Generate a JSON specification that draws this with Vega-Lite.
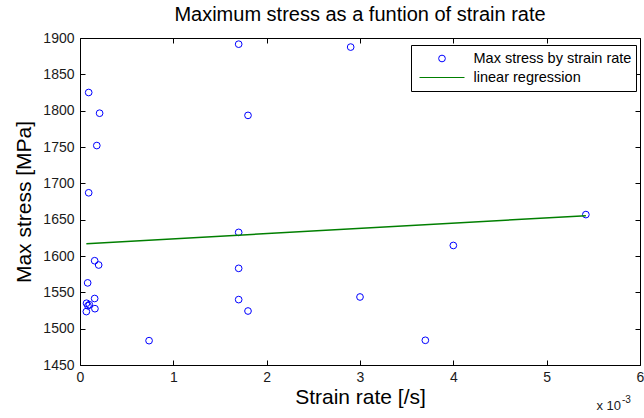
{
  "$schema": "https://vega.github.io/schema/vega-lite/v6.json",
  "width": 560,
  "height": 327,
  "autosize": {"type": "none"},
  "padding": {"left": 80, "top": 38, "right": 4, "bottom": 53},
  "background": "#ffffff",
  "title": {
    "text": "Maximum stress as a funtion of strain rate",
    "font": "Liberation Sans",
    "fontSize": 20,
    "fontWeight": "normal",
    "color": "#000000",
    "anchor": "middle",
    "offset": 6
  },
  "config": {
    "font": "Liberation Sans",
    "view": {"stroke": "#000000", "strokeWidth": 1},
    "axis": {
      "domain": false,
      "grid": false,
      "tickColor": "#000000",
      "tickSize": -5,
      "tickWidth": 1,
      "labelFont": "Liberation Sans",
      "labelFontSize": 14,
      "labelColor": "#1a1a1a",
      "labelFlush": false,
      "labelOverlap": false,
      "titleFont": "Liberation Sans",
      "titleFontSize": 21,
      "titleFontWeight": "normal",
      "titleColor": "#000000"
    },
    "legend": {
      "symbolStrokeWidth": 1,
      "labelFont": "Liberation Sans",
      "labelFontSize": 14.5,
      "labelColor": "#000000"
    }
  },
  "datasets": {
    "points": [
      {"strain_rate": 0.00170, "max_stress": 1891.5, "series": "Max stress by strain rate"},
      {"strain_rate": 0.000093, "max_stress": 1825.0, "series": "Max stress by strain rate"},
      {"strain_rate": 0.00021, "max_stress": 1796.5, "series": "Max stress by strain rate"},
      {"strain_rate": 0.00180, "max_stress": 1793.5, "series": "Max stress by strain rate"},
      {"strain_rate": 0.00018, "max_stress": 1752.0, "series": "Max stress by strain rate"},
      {"strain_rate": 0.000093, "max_stress": 1687.0, "series": "Max stress by strain rate"},
      {"strain_rate": 0.00170, "max_stress": 1632.5, "series": "Max stress by strain rate"},
      {"strain_rate": 0.000157, "max_stress": 1593.5, "series": "Max stress by strain rate"},
      {"strain_rate": 0.00020, "max_stress": 1587.6, "series": "Max stress by strain rate"},
      {"strain_rate": 0.00170, "max_stress": 1583.0, "series": "Max stress by strain rate"},
      {"strain_rate": 0.000082, "max_stress": 1563.0, "series": "Max stress by strain rate"},
      {"strain_rate": 0.000157, "max_stress": 1541.5, "series": "Max stress by strain rate"},
      {"strain_rate": 0.00170, "max_stress": 1540.0, "series": "Max stress by strain rate"},
      {"strain_rate": 0.000070, "max_stress": 1535.0, "series": "Max stress by strain rate"},
      {"strain_rate": 0.000085, "max_stress": 1531.5, "series": "Max stress by strain rate"},
      {"strain_rate": 0.000100, "max_stress": 1533.0, "series": "Max stress by strain rate"},
      {"strain_rate": 0.000160, "max_stress": 1527.5, "series": "Max stress by strain rate"},
      {"strain_rate": 0.000068, "max_stress": 1523.5, "series": "Max stress by strain rate"},
      {"strain_rate": 0.00074, "max_stress": 1483.5, "series": "Max stress by strain rate"},
      {"strain_rate": 0.00290, "max_stress": 1887.5, "series": "Max stress by strain rate"},
      {"strain_rate": 0.00180, "max_stress": 1524.3, "series": "Max stress by strain rate"},
      {"strain_rate": 0.00300, "max_stress": 1543.6, "series": "Max stress by strain rate"},
      {"strain_rate": 0.00370, "max_stress": 1484.0, "series": "Max stress by strain rate"},
      {"strain_rate": 0.00400, "max_stress": 1614.5, "series": "Max stress by strain rate"},
      {"strain_rate": 0.00542, "max_stress": 1657.0, "series": "Max stress by strain rate"}
    ],
    "fit": [
      {"strain_rate": 0.000068, "max_stress": 1617.0, "series": "linear regression"},
      {"strain_rate": 0.00542, "max_stress": 1655.5, "series": "linear regression"}
    ]
  },
  "layer": [
    {
      "data": {"name": "points"},
      "mark": {"type": "point", "filled": false, "strokeWidth": 1, "opacity": 1},
      "encoding": {
        "x": {
          "field": "strain_rate", "type": "quantitative",
          "scale": {"domain": [0, 0.006], "nice": false, "zero": false},
          "axis": {"orient": "top", "labels": false, "title": null,
                   "values": [0, 0.001, 0.002, 0.003, 0.004, 0.005, 0.006]}
        },
        "y": {
          "field": "max_stress", "type": "quantitative",
          "scale": {"domain": [1450, 1900], "nice": false, "zero": false},
          "axis": {"orient": "right", "labels": false, "title": null,
                   "values": [1450, 1500, 1550, 1600, 1650, 1700, 1750, 1800, 1850, 1900]}
        },
        "color": {
          "field": "series", "type": "nominal",
          "scale": {"domain": ["Max stress by strain rate", "linear regression"], "range": ["#0000ff", "#007f00"]},
          "legend": {"title": null, "orient": "none", "legendX": 331, "legendY": 7, "padding": 4, "rowPadding": 0, "clipHeight": 19, "symbolOffset": 4, "labelOffset": 8.5, "strokeColor": "#000000", "fillColor": "#ffffff", "cornerRadius": 0}
        },
        "shape": {
          "field": "series", "type": "nominal",
          "scale": {"domain": ["Max stress by strain rate", "linear regression"], "range": ["circle", "stroke"]},
          "legend": {"title": null, "orient": "none", "legendX": 331, "legendY": 7, "padding": 4, "rowPadding": 0, "clipHeight": 19, "symbolOffset": 4, "labelOffset": 8.5, "strokeColor": "#000000", "fillColor": "#ffffff", "cornerRadius": 0}
        },
        "size": {
          "field": "series", "type": "nominal",
          "scale": {"type": "ordinal", "domain": ["Max stress by strain rate", "linear regression"], "range": [45, 2025]},
          "legend": {"title": null, "orient": "none", "legendX": 331, "legendY": 7, "padding": 4, "rowPadding": 0, "clipHeight": 19, "symbolOffset": 4, "labelOffset": 8.5, "strokeColor": "#000000", "fillColor": "#ffffff", "cornerRadius": 0}
        }
      }
    },
    {
      "data": {"name": "fit"},
      "mark": {"type": "line", "strokeWidth": 1.5},
      "encoding": {
        "x": {
          "field": "strain_rate", "type": "quantitative",
          "axis": {"orient": "bottom", "title": "Strain rate [/s]", "titlePadding": 2, "labelPadding": 10,
                   "labelExpr": "round(datum.value * 1000)",
                   "values": [0, 0.001, 0.002, 0.003, 0.004, 0.005, 0.006]}
        },
        "y": {
          "field": "max_stress", "type": "quantitative",
          "axis": {"orient": "left", "title": "Max stress [MPa]", "titlePadding": 8, "labelPadding": 11, "format": "d",
                   "values": [1450, 1500, 1550, 1600, 1650, 1700, 1750, 1800, 1850, 1900]}
        },
        "color": {
          "field": "series", "type": "nominal",
          "legend": {"title": null, "orient": "none", "legendX": 331, "legendY": 7, "padding": 4, "rowPadding": 0, "clipHeight": 19, "symbolOffset": 4, "labelOffset": 8.5, "strokeColor": "#000000", "fillColor": "#ffffff", "cornerRadius": 0}
        }
      }
    },
    {
      "data": {"values": [{"label": "x 10"}]},
      "mark": {"type": "text", "align": "right", "baseline": "alphabetic", "dx": -19, "dy": 45, "fontSize": 13, "color": "#1a1a1a"},
      "encoding": {
        "x": {"datum": 0.006, "type": "quantitative", "axis": null},
        "y": {"datum": 1450, "type": "quantitative", "axis": null},
        "text": {"field": "label"}
      }
    },
    {
      "data": {"values": [{"label": "-3"}]},
      "mark": {"type": "text", "align": "left", "baseline": "alphabetic", "dx": -18, "dy": 38, "fontSize": 10, "color": "#1a1a1a"},
      "encoding": {
        "x": {"datum": 0.006, "type": "quantitative", "axis": null},
        "y": {"datum": 1450, "type": "quantitative", "axis": null},
        "text": {"field": "label"}
      }
    }
  ],
  "resolve": {"axis": {"x": "independent", "y": "independent"}}
}
